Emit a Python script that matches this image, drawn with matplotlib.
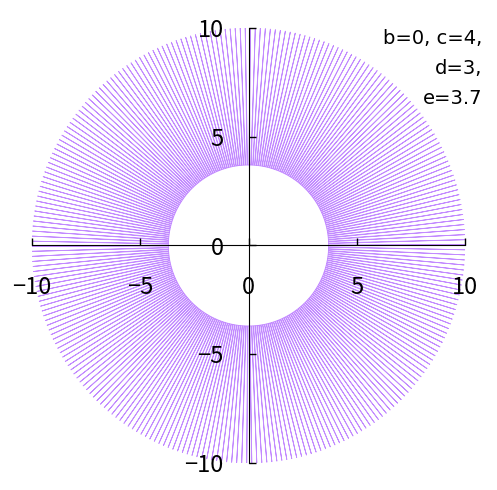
import numpy as np
import matplotlib
matplotlib.use("Agg")
import matplotlib.pyplot as plt

plt.rcParams['font.family'] = ['Noto Sans CJK JP', 'DejaVu Sans']

# curve parameters shown in the label
b, c, d, e = 0, 4, 3, 3.7
r_outer = 10.0
n_teeth = 270

ticks = [-10, -5, 0, 5, 10]
tick_labels = ["\u221210", "\u22125", "0", "5", "10"]
label = "b=0, c=4,\nd=3,\ne=3.7"

# each tooth: inner point, outer tip, inner point (narrow spike)
step = 2 * np.pi / n_teeth
k = np.arange(n_teeth)
ang = np.column_stack([k * step, k * step + 0.15 * step, k * step + 0.3 * step]).ravel()
rad = np.tile([e, r_outer, e], n_teeth)
ang = np.append(ang, ang[0])
rad = np.append(rad, rad[0])
x = rad * np.cos(ang)
y = rad * np.sin(ang)

fig = plt.figure(figsize=(4.97, 4.90), dpi=100)
ax = fig.add_axes([32 / 497, 27 / 490, 433 / 497, 435 / 490])
ax.plot(x, y, color="#c28aff", lw=0.6, zorder=1)
ax.set_axisbelow(False)

ax.set_xlim(-10, 10)
ax.set_ylim(-10, 10)
for s in ["top", "right"]:
    ax.spines[s].set_visible(False)
ax.spines["left"].set_position(("data", 0))
ax.spines["bottom"].set_position(("data", 0))
ax.set_xticks(ticks)
ax.set_yticks(ticks)
ax.set_xticklabels(tick_labels)
ax.set_yticklabels(tick_labels)
ax.tick_params(axis="x", direction="in", length=5, width=1, pad=22, labelsize=17)
ax.tick_params(axis="y", direction="in", length=5, width=1, pad=18, labelsize=17)

fig.text(482 / 497, 1 - 29 / 490, label, ha="right", va="top",
         fontsize=14, linespacing=1.75, family="DejaVu Sans")

fig.savefig("out.png", dpi=100)
